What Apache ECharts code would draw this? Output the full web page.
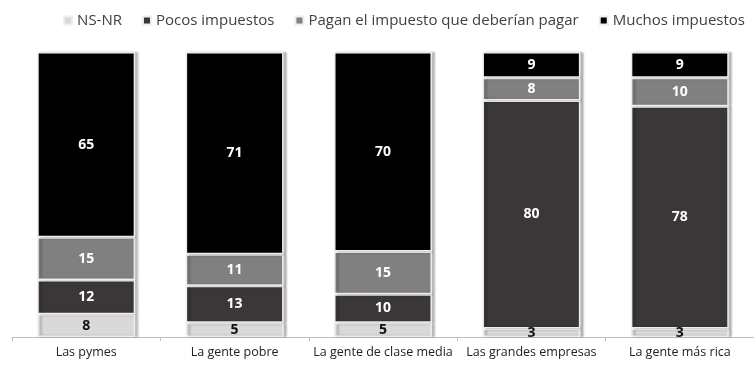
<!DOCTYPE html>
<html><head><meta charset="utf-8">
<script src="https://cdn.jsdelivr.net/npm/echarts@6/dist/echarts.min.js"></script>
<style>html,body{margin:0;padding:0;background:#fff}#c{width:754px;height:366px}</style>
</head><body><div id="c"></div>
<script>
const categories = ["Las pymes","La gente pobre","La gente de clase media","Las grandes empresas","La gente más rica"];
const nsnr = [8,5,5,3,3];
const pocos = [12,13,10,80,78];
const pagan = [15,11,15,8,10];
const muchos = [65,71,70,9,9];
const seriesNames = ["NS-NR","Pocos impuestos","Pagan el impuesto que deberían pagar","Muchos impuestos"];
const colors = ["#d9d9d9","#3b3738","#808080","#000000"];
const labelColors = ["#111","#fff","#fff","#fff"];
const datasets = [nsnr,pocos,pagan,muchos];
const font = "'Open Sans', 'Noto Sans', sans-serif";
const chart = echarts.init(document.getElementById('c'));
chart.setOption({
  animation:false,
  legend:{top:8,right:4,itemWidth:8,itemHeight:8,itemGap:20,
    icon:'rect',textStyle:{fontFamily:font,fontSize:15,color:'#404040'},data:seriesNames},
  grid:{left:12,width:749,top:52,bottom:29,containLabel:false},
  xAxis:{type:'category',data:categories,
    axisLine:{lineStyle:{color:'#bfbfbf'}},
    axisTick:{show:true,lineStyle:{color:'#bfbfbf'},length:4},
    axisLabel:{fontFamily:font,fontSize:12.5,color:'#222',margin:9,interval:0}},
  yAxis:{type:'value',min:0,max:100,show:false},
  series:datasets.map((d,i)=>({
    name:seriesNames[i],type:'bar',stack:'t',data:d,barWidth:'66%',
    itemStyle:{color:colors[i],borderColor:'#eeeeee',borderWidth:1.5,
      shadowColor:'rgba(0,0,0,0.25)',shadowOffsetX:3,shadowBlur:2},
    label:{show:true,position:'inside',color:labelColors[i],fontWeight:'bold',
      fontFamily:font,fontSize:14}
  }))
});
</script></body></html>
